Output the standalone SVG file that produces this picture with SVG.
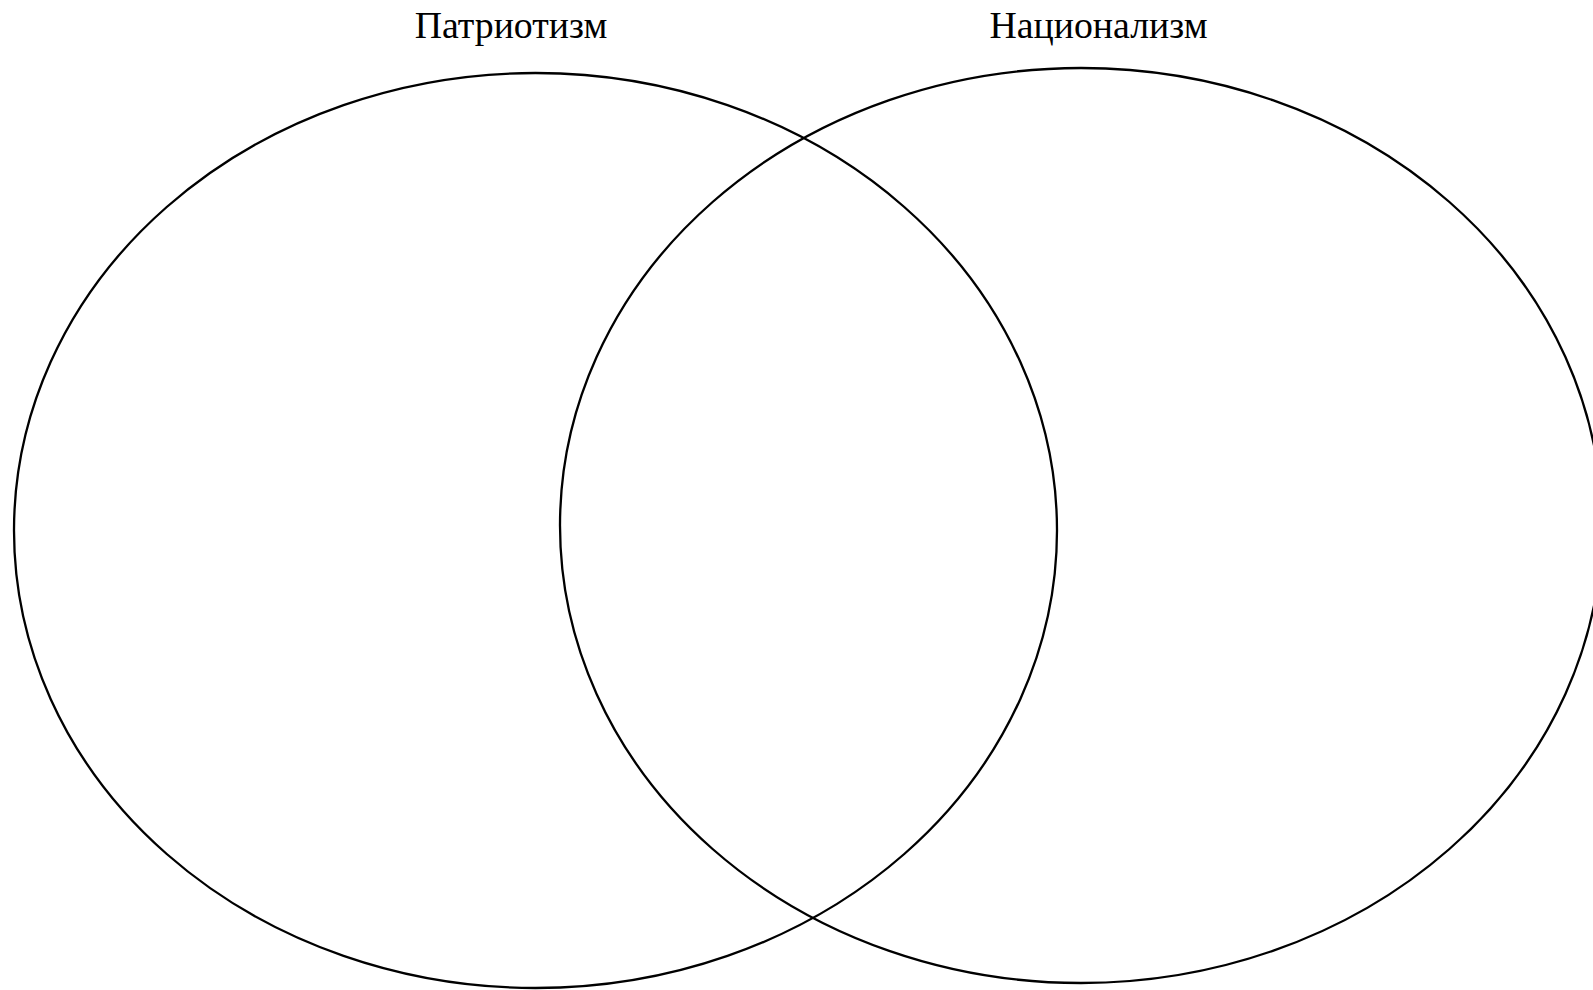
<svg xmlns="http://www.w3.org/2000/svg" width="1593" height="990" viewBox="0 0 1593 990">
<style>
.ell{fill:none;stroke:#000;stroke-width:2.3}
.lbl{font-family:"Liberation Serif","Times New Roman",serif;font-size:37.8px;fill:#000;text-anchor:middle}
</style>
<rect width="1593" height="990" fill="#fff"/>
<g id="patriotism">
<ellipse class="ell" cx="535.5" cy="530.5" rx="521.5" ry="457.5"/>
<text class="lbl" x="511" y="38">Патриотизм</text>
</g>
<g id="nationalism">
<ellipse class="ell" cx="1081" cy="525.5" rx="521" ry="457.5"/>
<text class="lbl" x="1098.5" y="38">Национализм</text>
</g>
<g id="connectors"></g>
</svg>
